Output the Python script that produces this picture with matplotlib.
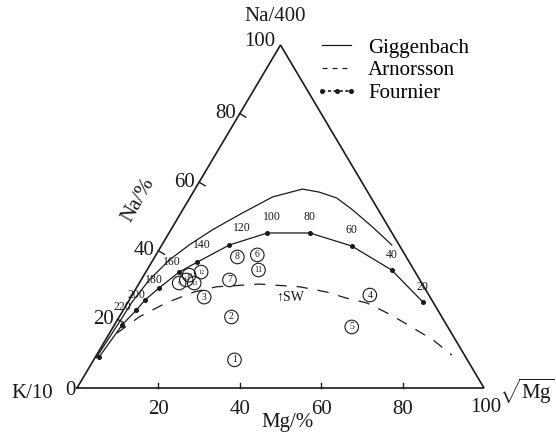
import matplotlib
matplotlib.use("Agg")
import matplotlib.pyplot as plt
from matplotlib.lines import Line2D

plt.rcParams["font.family"] = ["Liberation Serif", "DejaVu Serif"]
plt.rcParams["mathtext.fontset"] = "custom"
plt.rcParams["mathtext.rm"] = "Liberation Serif"
plt.rcParams["mathtext.it"] = "Liberation Serif:italic"

# ternary data: Na % and sqrt(Mg) %, K is the rest
gig_na = [8.8, 16.9, 25.1, 31.5, 37.3, 41.7, 46.1, 51.0, 55.7, 58.0, 57.1, 55.4, 51.9, 46.9, 41.7]
gig_mg = [0.3, 0.7, 1.0, 2.0, 4.0, 6.7, 10.2, 15.1, 20.2, 26.4, 31.0, 36.1, 41.8, 49.2, 56.5]

four_t = ["", "", "220", "200", "180", "160", "140", "120", "100", "80", "60", "40", "20"]
four_na = [9.0, 18.4, 22.7, 25.7, 29.2, 33.8, 36.7, 41.7, 45.2, 45.2, 41.4, 34.4, 25.1]
four_mg = [0.9, 1.9, 3.2, 3.9, 5.6, 8.2, 11.2, 16.6, 24.2, 34.6, 46.8, 60.1, 72.4]
# label offsets (pixels, right / up) for the temperature numbers
four_off = [(0, 0), (0, 0), (-14, 3), (-9, 5), (-5, 8), (-7, 10), (5, 17), (12, 17),
            (4, 16), (0, 16), (0, 16), (0, 15), (0, 15)]

arn_na = [16.0, 20.7, 24.8, 28.0, 29.5, 30.3, 29.5, 28.0, 26.2, 24.8, 21.9, 19.8, 14.0, 9.6]
arn_mg = [1.8, 4.9, 9.5, 14.8, 19.5, 29.7, 40.0, 47.3, 53.1, 58.8, 65.2, 69.4, 80.5, 87.3]

smp_id = ["1", "2", "3", "4", "5", "6", "7", "8", "11", "9", "10", "12", "13", "14"]
smp_na = [8.2, 20.7, 26.5, 27.1, 17.8, 38.8, 31.5, 38.2, 34.4, 30.6, 32.9, 33.8, 30.6, 31.5]
smp_mg = [34.6, 27.6, 18.0, 58.4, 58.6, 24.9, 21.7, 20.3, 27.4, 9.8, 11.1, 13.6, 13.5, 11.1]

sw_na, sw_mg = 26.5, 35.8

ticks = [20, 40, 60, 80]


def tern(na, mg):
    na = list(na) if hasattr(na, "__len__") else [na]
    mg = list(mg) if hasattr(mg, "__len__") else [mg]
    xs = [m + n / 2 for n, m in zip(na, mg)]
    return xs, na


W, H = 556, 436
x0, sx = 77, 4.07   # pixel of K vertex, pixels per unit
y0, sy = 388, 3.43

fig = plt.figure(figsize=(W / 100, H / 100), dpi=100)
ax = fig.add_axes([0, 0, 1, 1])
ax.set_xlim(-x0 / sx, (W - x0) / sx)
ax.set_ylim((y0 - H) / sy, y0 / sy)
ax.axis("off")

ink = "#1a1a1a"
big = 15

# triangle frame
tx, ty = tern([0, 0, 100, 0], [0, 100, 0, 0])
ax.plot(tx, ty, color=ink, lw=1.2, solid_joinstyle="miter")

for v in ticks:
    ax.plot([v, v], [0, 5 / sy], color=ink, lw=1.0)
    ax.text(v, -21 / sy, str(v), ha="center", va="center", fontsize=big, color=ink)
    px, py = v / 2, v
    ax.plot([px, px + 6 / sx], [py, py - 3.5 / sy], color=ink, lw=1.0)
    ax.text(px - 4 / sx, py, str(v), ha="right", va="center", fontsize=big, color=ink)

ax.text(100 + 2 / sx, -19 / sy, "100", ha="center", va="center", fontsize=big, color=ink)
ax.text(50 - 5 / sx, 100 + 4 / sy, "100", ha="right", va="center", fontsize=big, color=ink)
ax.text(-1 / sx, -2 / sy, "0", ha="right", va="center", fontsize=big, color=ink)
ax.text(-24 / sx, -5 / sy, "K/10", ha="right", va="center", fontsize=big, color=ink)
ax.text(48.6, 108.2, "Na/400", ha="center", va="center", fontsize=big, color=ink)
ax.text(51.8, -34 / sy, "Mg/%", ha="center", va="center", fontsize=big, color=ink)
ax.text(100 + 15 / sx, -3 / sy, r"$\sqrt{\mathrm{Mg}}$", ha="left", va="center",
        fontsize=big, color=ink)
ax.text(15.0, 54.8, "Na/%", ha="center", va="center", rotation=60, fontsize=big, color=ink)

# curves
gx, gy = tern(gig_na, gig_mg)
ax.plot(gx, gy, color=ink, lw=0.9)

ax_, ay_ = tern(arn_na, arn_mg)
ax.plot(ax_, ay_, color=ink, lw=0.9, dashes=(9, 8))

fx, fy = tern(four_na, four_mg)
ax.plot(fx, fy, color=ink, lw=0.9, marker="o", ms=2.6)
for t, x, y, (dx, dy) in zip(four_t, fx, fy, four_off):
    if t:
        ax.text(x + dx / sx, y + dy / sy, t, ha="center", va="center", fontsize=8.5, color=ink)

# samples
px_, py_ = tern(smp_na, smp_mg)
ax.scatter(px_, py_, s=95, facecolors="none", edgecolors=ink, linewidths=0.8, zorder=3)
for i, (s, x, y) in enumerate(zip(smp_id, px_, py_)):
    fs = 7 if i < 9 else 4.5
    if len(s) > 1 and i < 9:
        fs = 6
    ax.text(x, y, s, ha="center", va="center", fontsize=fs, color=ink, zorder=4)

swx, swy = tern(sw_na, sw_mg)
ax.text(swx[0], swy[0], "\u2191SW", ha="left", va="center", fontsize=10, color=ink)

handles = [
    Line2D([], [], color=ink, lw=0.9),
    Line2D([], [], color=ink, lw=0.9, dashes=(4, 4)),
    Line2D([], [], color=ink, lw=1.2, dashes=(2, 1.5), marker="o", ms=2.6),
]
ax.legend(handles, ["Giggenbach", "Arnorsson", "Fournier"], loc="upper left",
          bbox_to_anchor=(316 / W, 1 - 38 / H), bbox_transform=fig.transFigure,
          frameon=False, fontsize=big, handlelength=2.0, handletextpad=0.5,
          labelspacing=0.15, borderpad=0, borderaxespad=0, numpoints=3)

fig.savefig("out.png", dpi=100)
